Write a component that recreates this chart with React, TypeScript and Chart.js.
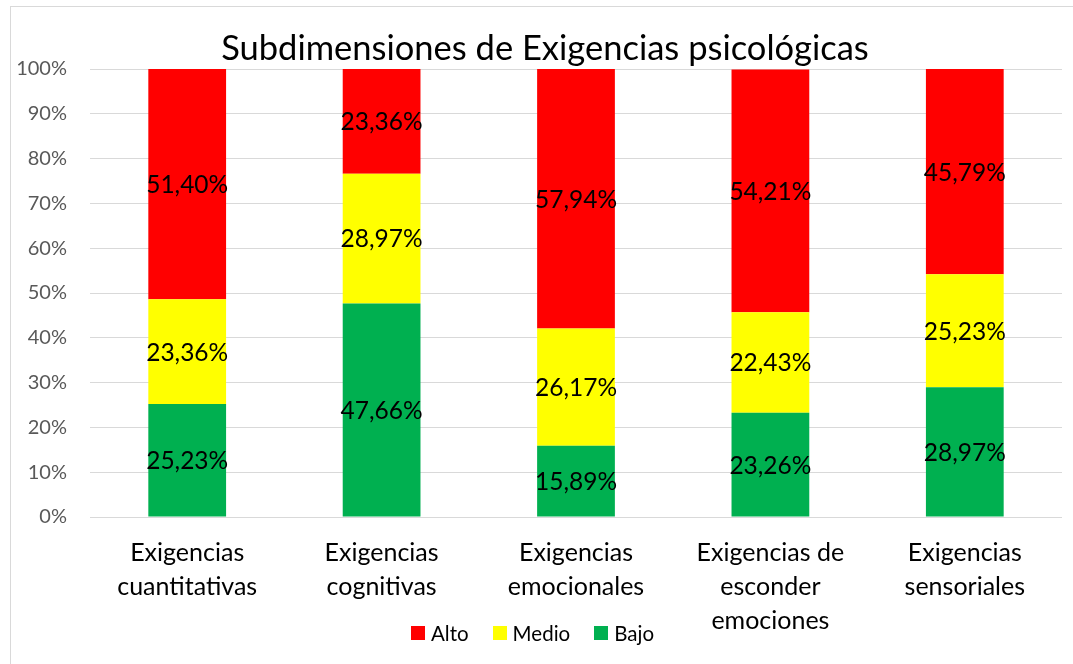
import React, { useEffect, useRef } from "react";
import { Chart, registerables } from "chart.js";

Chart.register(...registerables);

const categories: string[][] = [
  ["Exigencias", "cuantitativas"],
  ["Exigencias", "cognitivas"],
  ["Exigencias", "emocionales"],
  ["Exigencias de", "esconder", "emociones"],
  ["Exigencias", "sensoriales"],
];
const bajo = [25.23, 47.66, 15.89, 23.26, 28.97];
const medio = [23.36, 28.97, 26.17, 22.43, 25.23];
const alto = [51.4, 23.36, 57.94, 54.21, 45.79];
const seriesNames = ["Bajo", "Medio", "Alto"];
const seriesColors = ["#00B050", "#FFFF00", "#FF0000"];
const title = "Subdimensiones de Exigencias psicológicas";

const FONT = "Lato, 'Open Sans', sans-serif";

const valueLabels = {
  id: "valueLabels",
  afterDatasetsDraw(chart: any) {
    const ctx = chart.ctx;
    ctx.save();
    ctx.font = `24.5px ${FONT}`;
    ctx.fillStyle = "#000000";
    ctx.textAlign = "center";
    ctx.textBaseline = "middle";
    chart.data.datasets.forEach((ds: any, di: number) => {
      const meta = chart.getDatasetMeta(di);
      if (meta.hidden) return;
      meta.data.forEach((el: any, i: number) => {
        const v = ds.data[i] as number;
        const p = el.getProps(["x", "y", "base"], true);
        const cy = (p.y + p.base) / 2;
        ctx.fillText(v.toFixed(2).replace(".", ",") + "%", p.x, cy + 1);
      });
    });
    ctx.restore();
  },
};

const titleDraw = {
  id: "titleDraw",
  afterDraw(chart: any) {
    const ctx = chart.ctx;
    ctx.save();
    ctx.font = `34.5px ${FONT}`;
    ctx.fillStyle = "#000000";
    ctx.textAlign = "center";
    ctx.textBaseline = "middle";
    ctx.fillText(title, 545, 49);
    ctx.restore();
  },
};

export default function App() {
  const ref = useRef<HTMLCanvasElement>(null);
  useEffect(() => {
    if (!ref.current) return;
    const data = [bajo, medio, alto];
    const chart = new Chart(ref.current, {
      type: "bar",
      data: {
        labels: categories,
        datasets: data.map((d, i) => ({
          label: seriesNames[i],
          data: d,
          backgroundColor: seriesColors[i],
          borderWidth: 0,
          barPercentage: 0.4,
          categoryPercentage: 1,
        })),
      },
      options: {
        responsive: false,
        animation: false,
        devicePixelRatio: 1,
        layout: { padding: { left: 8, right: 11, top: 69, bottom: 0 } },
        plugins: {
          title: { display: false },
          legend: { display: false },
          tooltip: { enabled: false },
        },
        scales: {
          x: {
            stacked: true,
            grid: { display: false, drawTicks: false },
            border: { display: false },
            ticks: {
              color: "#000000",
              font: { family: FONT, size: 25, lineHeight: 1.36 },
              padding: 19,
              maxRotation: 0,
              autoSkip: false,
            },
            afterFit: (s: any) => {
              s.height = 147;
            },
          },
          y: {
            stacked: true,
            min: 0,
            max: 100,
            grid: { color: "#d9d9d9", lineWidth: 1, drawTicks: false },
            border: { display: false },
            ticks: {
              stepSize: 10,
              color: "#595959",
              font: { family: FONT, size: 20 },
              padding: 23,
              callback: (v: any) => `${v}%`,
            },
            afterFit: (s: any) => {
              s.width = 82;
            },
          },
        },
      },
      plugins: [valueLabels, titleDraw],
    });
    return () => chart.destroy();
  }, []);

  const legendOrder = [2, 1, 0];

  return (
    <div
      style={{
        position: "fixed",
        left: 0,
        top: 0,
        width: 1073,
        height: 664,
        overflow: "hidden",
        background: "#ffffff",
      }}
    >
      <div
        style={{
          position: "absolute",
          left: 10,
          top: 6,
          width: 1100,
          height: 700,
          border: "1px solid #d9d9d9",
          boxSizing: "border-box",
        }}
      />
      <canvas
        ref={ref}
        width={1073}
        height={664}
        style={{ position: "absolute", left: 0, top: 0, width: 1073, height: 664 }}
      />
      <div
        style={{
          position: "absolute",
          left: 411,
          top: 619,
          height: 28,
          display: "flex",
          alignItems: "center",
          fontFamily: FONT,
          fontSize: 20.5,
          color: "#000000",
          lineHeight: "28px",
        }}
      >
        {legendOrder.map((i, k) => (
          <div
            key={seriesNames[i]}
            style={{ display: "flex", alignItems: "center", marginRight: k < 2 ? 24 : 0 }}
          >
            <span
              style={{
                display: "inline-block",
                width: 14,
                height: 14,
                background: seriesColors[i],
                marginRight: 6,
              }}
            />
            <span>{seriesNames[i]}</span>
          </div>
        ))}
      </div>
    </div>
  );
}
